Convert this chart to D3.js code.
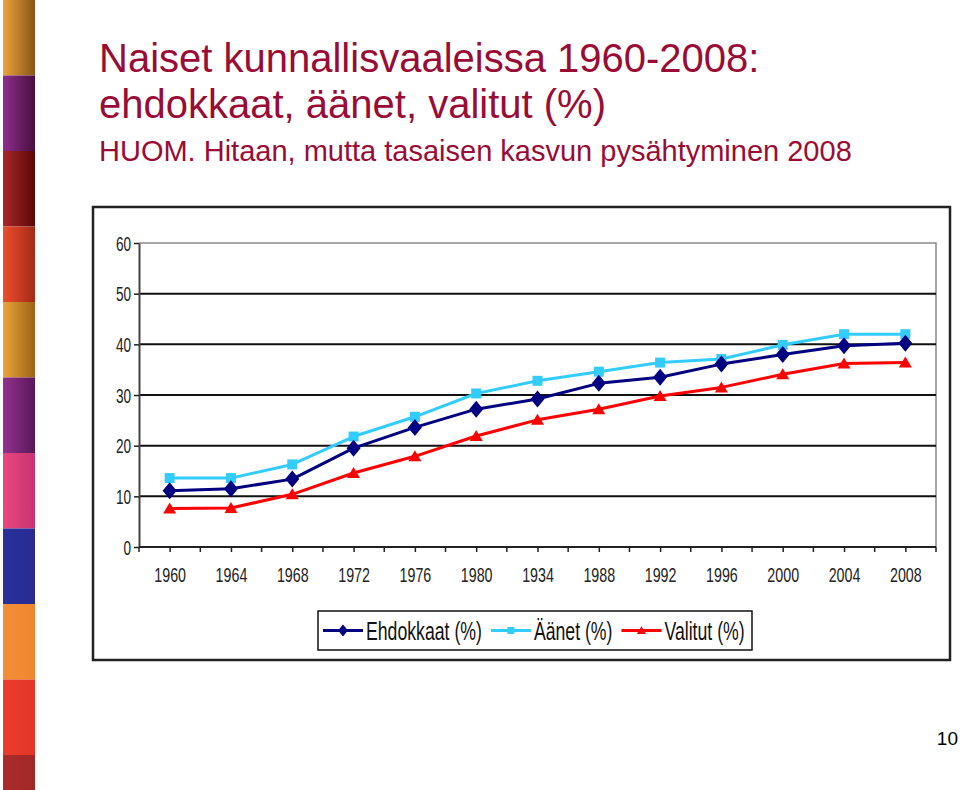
<!DOCTYPE html>
<html>
<head>
<meta charset="utf-8">
<script src="https://cdn.jsdelivr.net/npm/d3@7"></script>
<style>
  html, body { margin: 0; padding: 0; background: #fff; }
  svg { display: block; font-family: "Liberation Sans", Arial, sans-serif; }
</style>
</head>
<body>
<svg id="chart" width="960" height="790"></svg>
<script>
// ---- data ----
const years = ["1960","1964","1968","1972","1976","1980","1934","1988","1992","1996","2000","2004","2008"];
const ehdokkaat = [11.1, 11.5, 13.4, 19.5, 23.6, 27.2, 29.2, 32.3, 33.5, 36.1, 38.0, 39.7, 40.2];
const aanet     = [13.6, 13.6, 16.3, 21.8, 25.7, 30.3, 32.8, 34.6, 36.4, 37.1, 39.9, 42.0, 42.0];
const valitut   = [7.6, 7.7, 10.4, 14.6, 17.9, 21.9, 25.1, 27.2, 29.8, 31.5, 34.1, 36.2, 36.4];
const yTicks = [0, 10, 20, 30, 40, 50, 60];
const seriesNames = ["Ehdokkaat (%)", "Äänet (%)", "Valitut (%)"];
const seriesColors = ["#000080", "#33CCFF", "#FF0000"];
const titleLines = ["Naiset kunnallisvaaleissa 1960-2008:", "ehdokkaat, äänet, valitut (%)"];
const subtitle = "HUOM. Hitaan, mutta tasaisen kasvun pysähtyminen 2008";
const pageNumber = "10";
const stripColors = [
  ["#EBA43A", "#8A5418"], ["#8E2E8E", "#4A0F3E"], ["#A8262A", "#5A0808"],
  ["#EC4E2C", "#A42A18"], ["#EBA43A", "#9A6418"], ["#92308F", "#5A1858"],
  ["#EC4680", "#C8346E"], ["#2A309C", "#262C92"], ["#F48E36", "#EE8630"],
  ["#EC3C2C", "#E2362A"], ["#AC2C2C", "#A22828"]
];

const svg = d3.select("#chart");
const defs = svg.append("defs");

// ---- decorative left strip ----
const stripTop = 0, stripSeg = 75.5;
stripColors.forEach((c, i) => {
  const g = defs.append("linearGradient").attr("id", "sg" + i)
    .attr("x1", "0").attr("x2", "1").attr("y1", "0").attr("y2", "0");
  g.append("stop").attr("offset", "0").attr("stop-color", c[0]);
  g.append("stop").attr("offset", "1").attr("stop-color", c[1]);
  svg.append("rect")
    .attr("x", 3).attr("y", stripTop + i * stripSeg)
    .attr("width", 32).attr("height", Math.min(stripSeg, 790 - i * stripSeg))
    .attr("fill", "url(#sg" + i + ")");
});

// ---- titles ----
const titleColor = "#9A0C34";
svg.append("text").attr("x", 99).attr("y", 72).attr("font-size", 40)
  .attr("fill", titleColor).text(titleLines[0]);
svg.append("text").attr("x", 99).attr("y", 118).attr("font-size", 40)
  .attr("fill", titleColor).text(titleLines[1]);
svg.append("text").attr("x", 99).attr("y", 161).attr("font-size", 29)
  .attr("fill", titleColor).text(subtitle);

svg.append("text").attr("x", 958).attr("y", 745).attr("text-anchor", "end")
  .attr("font-size", 19).attr("fill", "#000").text(pageNumber);

// ---- chart frame ----
svg.append("rect").attr("x", 93).attr("y", 207).attr("width", 857).attr("height", 453)
  .attr("fill", "#fff").attr("stroke", "#222").attr("stroke-width", 2.5);

const plotL = 139, plotR = 936, plotT = 243, plotB = 547;
const x = d3.scalePoint().domain(years).range([plotL, plotR]).padding(0.5);
const y = d3.scaleLinear().domain([0, 60]).range([plotB, plotT]);
const step = x.step();
const SX = 0.68; // horizontal squeeze of the chart lettering

// plot-area border (top/right grey)
svg.append("path")
  .attr("d", `M${plotL},${y(60)}H${plotR}V${y(0)}`)
  .attr("fill", "none").attr("stroke", "#8a8a8a").attr("stroke-width", 1.5);

// gridlines
svg.append("g").selectAll("line").data(yTicks.filter(t => t > 0 && t < 60)).join("line")
  .attr("x1", plotL).attr("x2", plotR)
  .attr("y1", d => y(d)).attr("y2", d => y(d))
  .attr("stroke", "#111").attr("stroke-width", 2);

// y axis
const yAxis = svg.append("g").attr("transform", `translate(${plotL},0)`)
  .call(d3.axisLeft(y).tickValues(yTicks).tickSize(5).tickSizeOuter(0).tickFormat(d3.format("d")));
yAxis.select(".domain").attr("stroke", "#444").attr("stroke-width", 2);
yAxis.selectAll(".tick line").attr("stroke", "#222").attr("stroke-width", 1.5);
yAxis.selectAll(".tick text").attr("font-size", 20).attr("fill", "#222")
  .attr("font-family", "'Liberation Sans', Arial, sans-serif")
  .attr("x", null).attr("dy", null)
  .attr("transform", `translate(-8,7) scale(${SX},1)`);

// x axis
const xAxis = svg.append("g").attr("transform", `translate(0,${plotB})`)
  .call(d3.axisBottom(x).tickSize(5).tickSizeOuter(0));
xAxis.select(".domain").attr("d", `M${plotL},0H${plotR}`).attr("stroke", "#222").attr("stroke-width", 2);
xAxis.selectAll(".tick line").attr("stroke", "#222").attr("stroke-width", 1.5);
xAxis.selectAll(".tick text").attr("font-size", 21).attr("fill", "#222")
  .attr("font-family", "'Liberation Sans', Arial, sans-serif")
  .attr("y", null).attr("dy", null)
  .attr("transform", `translate(0,35) scale(${SX},1)`);
// boundary ticks between categories
xAxis.append("g").selectAll("line").data(years).join("line")
  .attr("x1", d => x(d) + step / 2).attr("x2", d => x(d) + step / 2)
  .attr("y1", 0).attr("y2", 5).attr("stroke", "#222").attr("stroke-width", 1.5);
xAxis.append("line").attr("x1", plotL).attr("x2", plotL).attr("y1", 0).attr("y2", 5)
  .attr("stroke", "#222").attr("stroke-width", 1.5);

// ---- series ----
const markerPaths = [
  s => `M0,${-8.5*s}L${7*s},0L0,${8.5*s}L${-7*s},0Z`,
  s => `M${-5*s},${-5*s}H${5*s}V${5*s}H${-5*s}Z`,
  s => `M0,${-6*s}L${6.5*s},${5*s}L${-6.5*s},${5*s}Z`
];
const allSeries = [ehdokkaat, aanet, valitut];
const line = d3.line().x((d, i) => x(years[i])).y(d => y(d));
const order = [2, 1, 0];
order.forEach(si => {
  const vals = allSeries[si];
  const g = svg.append("g");
  g.append("path").attr("d", line(vals)).attr("fill", "none")
    .attr("stroke", seriesColors[si]).attr("stroke-width", 3).attr("stroke-linejoin", "round");
  g.selectAll("path.m").data(vals).join("path").attr("class", "m")
    .attr("d", markerPaths[si](1))
    .attr("transform", (d, i) => `translate(${x(years[i])},${y(d)})`)
    .attr("fill", seriesColors[si]);
});

// ---- legend ----
const legX = 318, legY = 611, legW = 434, legH = 39;
svg.append("rect").attr("x", legX).attr("y", legY).attr("width", legW).attr("height", legH)
  .attr("fill", "#fff").attr("stroke", "#111").attr("stroke-width", 1.5);
let cx = legX + 5;
const cy = legY + legH / 2;
seriesNames.forEach((name, si) => {
  const g = svg.append("g");
  g.append("line").attr("x1", cx).attr("x2", cx + 40).attr("y1", cy).attr("y2", cy)
    .attr("stroke", seriesColors[si]).attr("stroke-width", 3);
  g.append("path").attr("d", markerPaths[si](0.7))
    .attr("transform", `translate(${cx + 20},${cy})`).attr("fill", seriesColors[si]);
  const t = g.append("text").attr("font-size", 26).attr("fill", "#111")
    .attr("transform", `translate(${cx + 43},${cy + 9}) scale(${SX},1)`).text(name);
  const w = t.node().getComputedTextLength() * SX;
  cx = cx + 43 + w + 9;
});
</script>
</body>
</html>
